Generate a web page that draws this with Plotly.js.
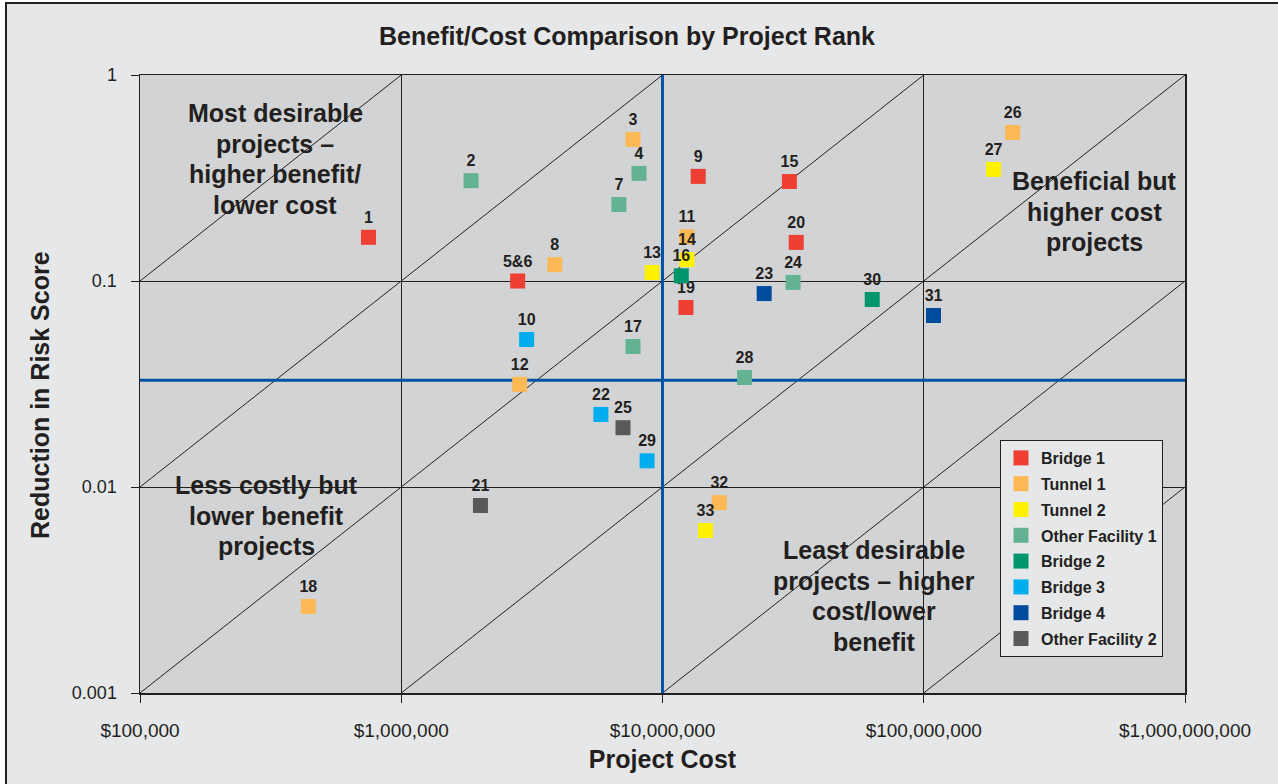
<!DOCTYPE html>
<html><head><meta charset="utf-8">
<script src="https://cdn.plot.ly/plotly-3.0.1.min.js"></script>
<style>
html,body{margin:0;padding:0;background:#ffffff;}
#frame{position:absolute;left:5px;top:2px;width:1290px;height:800px;background:#E6E7E8;border-left:2px solid #231F20;border-top:2px solid #231F20;}
#chart{position:absolute;left:0;top:0;width:1278px;height:784px;}
</style></head>
<body>
<div id="frame"></div>
<div id="chart"></div>
<script>
// ---- data ----
const seriesNames = ['Bridge 1','Tunnel 1','Tunnel 2','Other Facility 1','Bridge 2','Bridge 3','Bridge 4','Other Facility 2'];
const seriesColors = ['#EF3E32','#FDB955','#FFF200','#63B393','#00966C','#00AEEF','#004B9C','#58595B'];

const projectLabels = ['1','2','3','4','5&6','7','8','9','10','11','12','13','14','15','16','17','18','19','20','21','22','23','24','25','26','27','28','29','30','31','32','33'];
const projectCost = [749000,1850000,7710000,8130000,2790000,6810000,3870000,13700000,3020000,12400000,2840000,9120000,12400000,30600000,11800000,7710000,441000,12300000,32500000,2010000,5810000,24500000,31600000,7060000,219000000,185000000,20600000,8730000,63500000,109000000,16500000,14600000];
const projectRisk = [0.163,0.307,0.486,0.333,0.100,0.235,0.120,0.322,0.052,0.164,0.0315,0.110,0.127,0.304,0.106,0.0481,0.00263,0.0744,0.154,0.00813,0.0225,0.0869,0.0984,0.0194,0.526,0.348,0.034,0.0134,0.0813,0.068,0.0084,0.00615];
const projectType = ['Bridge 1','Other Facility 1','Tunnel 1','Other Facility 1','Bridge 1','Other Facility 1','Tunnel 1','Bridge 1','Bridge 3','Tunnel 1','Tunnel 1','Tunnel 2','Tunnel 2','Bridge 1','Bridge 2','Other Facility 1','Tunnel 1','Bridge 1','Bridge 1','Other Facility 2','Bridge 3','Bridge 4','Other Facility 1','Other Facility 2','Tunnel 1','Tunnel 2','Other Facility 1','Bridge 3','Bridge 2','Bridge 4','Tunnel 1','Tunnel 2'];

const xTickVals = [1e5,1e6,1e7,1e8,1e9];
const xTickText = ['$100,000','$1,000,000','$10,000,000','$100,000,000','$1,000,000,000'];
const yTickVals = [0.001,0.01,0.1,1];
const yTickText = ['0.001','0.01','0.1','1'];

const ratioLines = [1e-6,1e-7,1e-8,1e-9,1e-10,1e-11]; // benefit/cost constant lines
const costThreshold = 1e7;
const riskThreshold = 0.033;

const quadrantTexts = [
  {lines:['Most desirable','projects –','higher benefit/','lower cost'], cx:275, y0:113},
  {lines:['Beneficial but','higher cost','projects'], cx:1094, y0:181},
  {lines:['Less costly but','lower benefit','projects'], cx:266, y0:485},
  {lines:['Least desirable','projects – higher','cost/lower','benefit'], cx:874, y0:550}
];

// ---- layout constants ----
const L=140, R=93, T=75, B=91, W=1278, H=784;
const pw=W-L-R, ph=H-T-B;
const xr=[5,9], yr=[-3,0];
const FONT='"Liberation Sans", Arial, sans-serif';
const INK='#231F20';

const traces=[];
ratioLines.forEach(k=>{
  const xmin=Math.pow(10,xr[0]), xmax=Math.pow(10,xr[1]);
  const ymin=Math.pow(10,yr[0]), ymax=Math.pow(10,yr[1]);
  let x0=Math.max(xmin, ymin/k), x1=Math.min(xmax, ymax/k);
  traces.push({x:[x0,x1], y:[k*x0,k*x1], mode:'lines', line:{color:INK,width:1}, hoverinfo:'skip', showlegend:false});
});
traces.push({x:[costThreshold,costThreshold], y:[Math.pow(10,yr[0]),Math.pow(10,yr[1])], mode:'lines', line:{color:'#0054A6',width:3}, hoverinfo:'skip', showlegend:false});
traces.push({x:[Math.pow(10,xr[0]),Math.pow(10,xr[1])], y:[riskThreshold,riskThreshold], mode:'lines', line:{color:'#0054A6',width:3}, hoverinfo:'skip', showlegend:false});

seriesNames.forEach((nm,i)=>{
  const idx=projectType.map((t,j)=>t===nm?j:-1).filter(j=>j>=0);
  traces.push({
    name:nm, legendgroup:nm,
    x:idx.map(j=>projectCost[j]), y:idx.map(j=>projectRisk[j]), text:idx.map(j=>projectLabels[j]),
    mode:'markers+text', textposition:'top center',
    textfont:{family:FONT,size:16,color:INK,weight:'bold'},
    marker:{symbol:'square',size:15,color:seriesColors[i]},
    cliponaxis:false
  });
});

const annotations=[];
quadrantTexts.forEach(q=>{
  q.lines.forEach((ln,i)=>{
    annotations.push({xref:'paper',yref:'paper', x:(q.cx-L)/pw, y:(H-B-(q.y0+i*30.5))/ph, xanchor:'center', yanchor:'middle',
      text:ln, showarrow:false, font:{family:FONT,size:25,color:INK,weight:'bold'}});
  });
});
annotations.push({xref:'paper',yref:'paper', x:(40-L)/pw, y:(H-B-395)/ph, xanchor:'center', yanchor:'middle', textangle:-90,
  text:'Reduction in Risk Score', showarrow:false, font:{family:FONT,size:25,color:INK,weight:'bold'}});

const layout={
  width:W,height:H,
  margin:{l:L,r:R,t:T,b:B},
  paper_bgcolor:'rgba(0,0,0,0)', plot_bgcolor:'#D1D3D4',
  font:{family:FONT,color:INK},
  title:{text:'Benefit/Cost Comparison by Project Rank', font:{family:FONT,size:25,color:INK,weight:'bold'}, x:627/W, xanchor:'center', y:1-36/H, yanchor:'middle'},
  xaxis:{type:'log', range:xr, tickvals:xTickVals, ticktext:xTickText, ticks:'outside', ticklen:8, tickcolor:INK, tickwidth:1,
    tickfont:{family:FONT,size:19,color:INK}, ticklabelstandoff:12,
    showgrid:true, gridcolor:INK, gridwidth:1, showline:true, mirror:true, linecolor:INK, linewidth:1.5, zeroline:false,
    title:{text:'Project Cost', font:{family:FONT,size:25,color:INK,weight:'bold'}, standoff:10}},
  yaxis:{type:'log', range:yr, tickvals:yTickVals, ticktext:yTickText, ticks:'outside', ticklen:8, tickcolor:INK, tickwidth:1,
    tickfont:{family:FONT,size:18,color:INK}, ticklabelstandoff:10,
    showgrid:true, gridcolor:INK, gridwidth:1, showline:true, mirror:true, linecolor:INK, linewidth:1.5, zeroline:false},
  legend:{x:(1000-L)/pw, y:(H-B-440)/ph, xanchor:'left', yanchor:'top', bgcolor:'#E6E7E8', bordercolor:INK, borderwidth:1,
    font:{family:FONT,size:16,color:INK,weight:'bold'}, traceorder:'grouped', tracegroupgap:2, itemsizing:'trace', itemwidth:30},
  annotations:annotations,
  showlegend:true
};
Plotly.newPlot('chart',traces,layout,{displayModeBar:false,staticPlot:true});
</script>
</body></html>
